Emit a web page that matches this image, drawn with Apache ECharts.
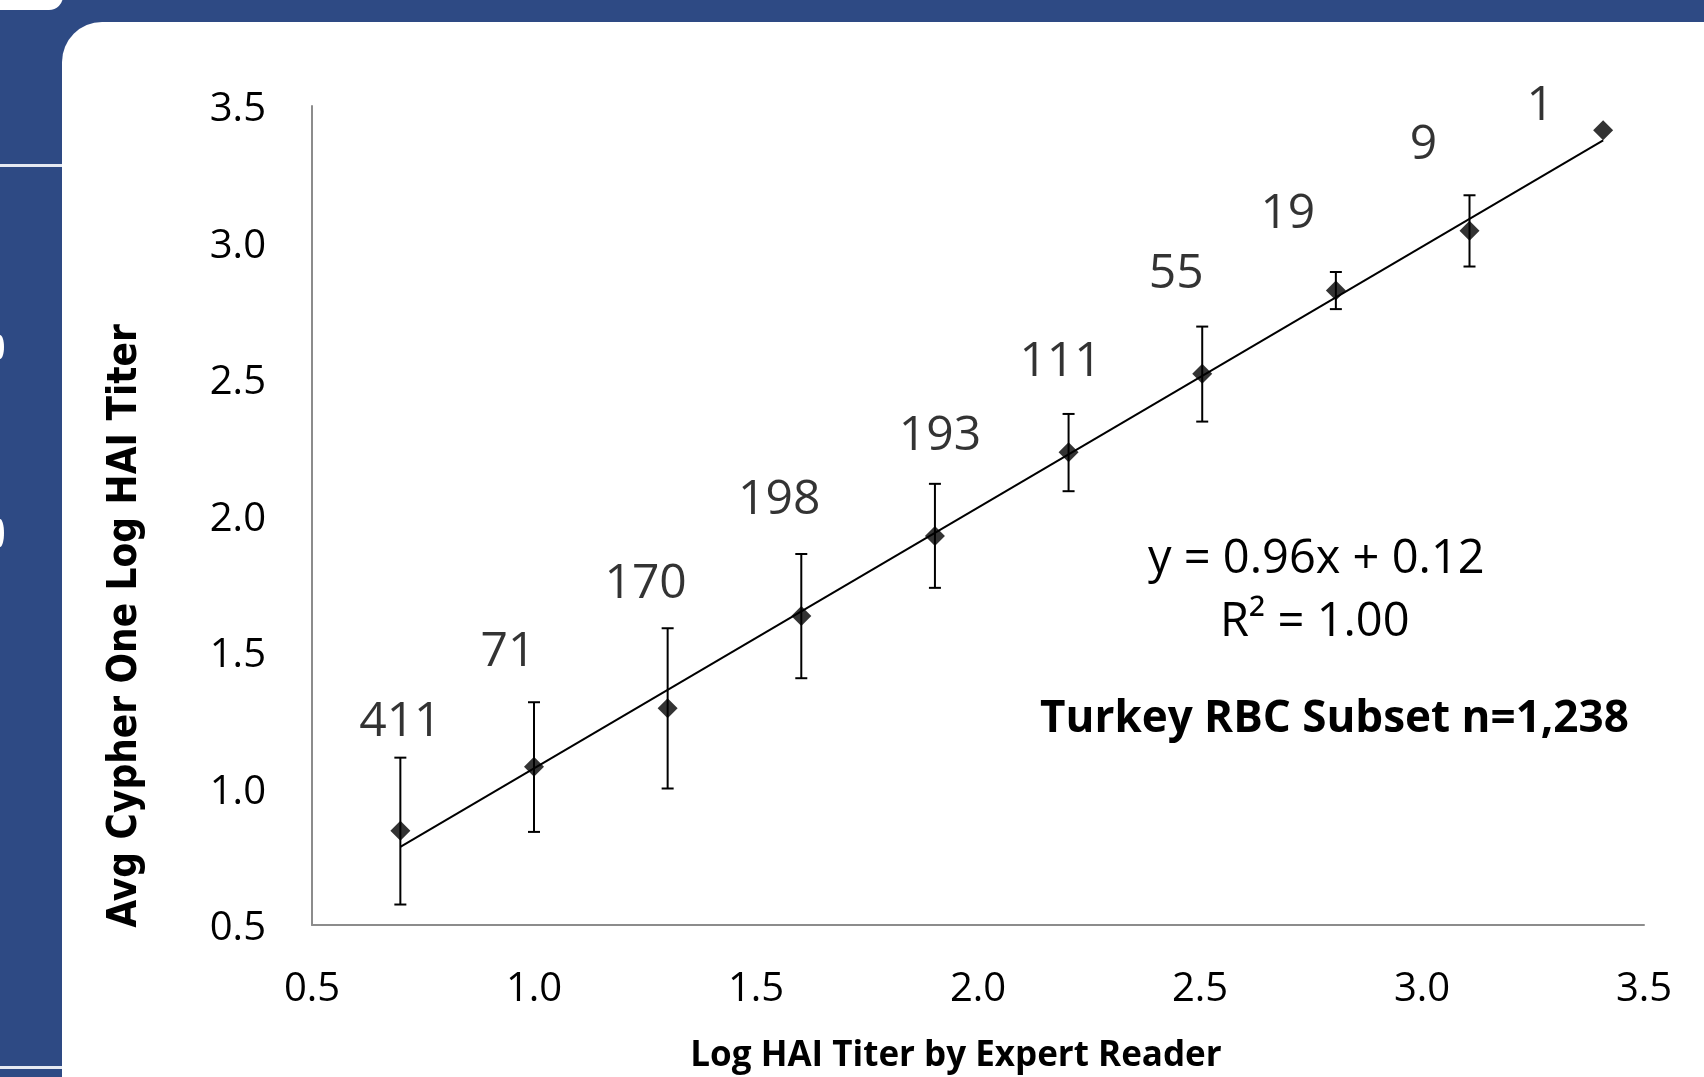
<!DOCTYPE html>
<html>
<head>
<meta charset="utf-8">
<script src="https://cdn.jsdelivr.net/npm/echarts@6/dist/echarts.min.js"></script>
<style>
  html, body { margin: 0; padding: 0; background: #2e4a84; }
  #chart { width: 1704px; height: 1077px; }
</style>
</head>
<body>
<div id="chart"></div>
<script>
// log10 of HAI titer (expert reader) and the average Cypher One reading
const xVals = [0.699, 1.0, 1.301, 1.602, 1.903, 2.204, 2.505, 2.806, 3.107, 3.408];
const yVals = [0.845, 1.080, 1.294, 1.632, 1.925, 2.232, 2.519, 2.824, 3.043, 3.411];
const errHigh = [1.113, 1.316, 1.587, 1.859, 2.116, 2.372, 2.692, 2.892, 3.173, null];
const errLow = [0.575, 0.841, 1.000, 1.404, 1.735, 2.089, 2.344, 2.756, 2.912, null];
const counts = [411, 71, 170, 198, 193, 111, 55, 19, 9, 1];
// linear trendline end points
const trendX = [0.699, 3.408];
const trendY = [0.786, 3.374];
const axisTicks = [0.5, 1.0, 1.5, 2.0, 2.5, 3.0, 3.5];

// where each count label sits relative to the top of its error bar (px)
const labelOffsets = [[0, -35], [-26, -50], [-22, -44], [-22, -54], [5, -48],
  [-8, -52], [-26, -52], [-48, -58], [-46, -50], [-63, -24]];

const chart = echarts.init(document.getElementById('chart'));

const font = '"Open Sans", "Noto Sans", sans-serif';
const axisGray = '#8c8c8c';

const option = {
  animation: false,
  backgroundColor: '#2e4a84',
  grid: { left: 312, right: 60, top: 106, bottom: 152, containLabel: false },
  graphic: [
    { type: 'rect', z: -10, silent: true, shape: { x: 62, y: 22, width: 1700, height: 1100, r: [40, 0, 0, 0] }, style: { fill: '#ffffff' } },
    { type: 'rect', z: -10, silent: true, shape: { x: -20, y: -40, width: 83, height: 50, r: [0, 0, 14, 0] }, style: { fill: '#ffffff' } },
    { type: 'rect', z: -10, silent: true, shape: { x: 0, y: 164, width: 62, height: 3 }, style: { fill: '#e6eaf2' } },
    { type: 'rect', z: -10, silent: true, shape: { x: 0, y: 1066, width: 62, height: 3 }, style: { fill: '#e6eaf2' } },
    { type: 'ellipse', z: -10, silent: true, shape: { cx: 0, cy: 347, rx: 4, ry: 12 }, style: { fill: '#ffffff' } },
    { type: 'ellipse', z: -10, silent: true, shape: { cx: 0, cy: 533, rx: 4, ry: 14 }, style: { fill: '#ffffff' } },
    {
      type: 'text', left: 1148, top: 536,
      style: { text: 'y = 0.96x + 0.12', font: '47px ' + font, fill: '#000' }
    },
    {
      type: 'text', left: 1220, top: 599,
      style: { text: 'R² = 1.00', font: '47px ' + font, fill: '#000' }
    },
    {
      type: 'text', left: 1040, top: 697,
      style: { text: 'Turkey RBC Subset n=1,238', font: 'bold 44px ' + font, fill: '#000' }
    },
    {
      // x axis title
      type: 'text', x: 956, y: 1056,
      style: { text: 'Log HAI Titer by Expert Reader', font: 'bold 35px ' + font, fill: '#000', align: 'center', verticalAlign: 'middle' }
    },
    {
      // y axis title
      type: 'text', x: 126, y: 626, rotation: Math.PI / 2,
      style: { text: 'Avg Cypher One Log HAI Titer', font: 'bold 40px "Liberation Sans Narrow", "DejaVu Sans Condensed", ' + font, fill: '#000', align: 'center', verticalAlign: 'middle' }
    }
  ],
  xAxis: {
    type: 'value',
    min: axisTicks[0],
    max: axisTicks[axisTicks.length - 1],
    interval: 0.5,
    axisLine: { show: true, lineStyle: { color: axisGray, width: 2 } },
    axisTick: { show: false },
    splitLine: { show: false },
    axisLabel: {
      margin: 45, fontFamily: font, fontSize: 40, color: '#000',
      formatter: v => v.toFixed(1)
    }
  },
  yAxis: {
    type: 'value',
    min: axisTicks[0],
    max: axisTicks[axisTicks.length - 1],
    interval: 0.5,
    axisLine: { show: true, lineStyle: { color: axisGray, width: 2 } },
    axisTick: { show: false },
    splitLine: { show: false },
    axisLabel: {
      margin: 46, fontFamily: font, fontSize: 40, color: '#000',
      formatter: v => '{t|' + v.toFixed(1) + '}',
      rich: { t: { fontFamily: font, fontSize: 40, color: '#000', padding: [8, 0, 0, 0] } }
    }
  },
  series: [
    {
      name: 'trend',
      type: 'line',
      data: trendX.map((x, i) => [x, trendY[i]]),
      showSymbol: false,
      lineStyle: { color: '#000', width: 2 },
      z: 2
    },
    {
      name: 'error',
      type: 'custom',
      data: xVals.map((x, i) => [x, errLow[i], errHigh[i]]).filter(d => d[1] != null),
      renderItem: (params, api) => {
        const x = api.value(0);
        const lo = api.coord([x, api.value(1)]);
        const hi = api.coord([x, api.value(2)]);
        const cap = 6;
        const st = { stroke: '#000', lineWidth: 2 };
        return {
          type: 'group',
          children: [
            { type: 'line', shape: { x1: lo[0], y1: lo[1], x2: hi[0], y2: hi[1] }, style: st },
            { type: 'line', shape: { x1: hi[0] - cap, y1: hi[1], x2: hi[0] + cap, y2: hi[1] }, style: st },
            { type: 'line', shape: { x1: lo[0] - cap, y1: lo[1], x2: lo[0] + cap, y2: lo[1] }, style: st }
          ]
        };
      },
      z: 3
    },
    {
      name: 'points',
      type: 'scatter',
      symbol: 'diamond',
      symbolSize: [20, 20],
      data: xVals.map((x, i) => [x, yVals[i]]),
      itemStyle: { color: '#000' },
      z: 4
    },
    {
      name: 'counts',
      type: 'scatter',
      symbolSize: 1,
      itemStyle: { color: 'rgba(0,0,0,0)' },
      data: xVals.map((x, i) => ({
        value: [x, errHigh[i] != null ? errHigh[i] : yVals[i]],
        label: { offset: labelOffsets[i] }
      })),
      label: {
        show: true,
        position: 'inside',
        fontFamily: font,
        fontSize: 48,
        color: '#000',
        formatter: p => String(counts[p.dataIndex])
      },
      z: 5
    }
  ]
};

chart.setOption(option);
</script>
</body>
</html>
